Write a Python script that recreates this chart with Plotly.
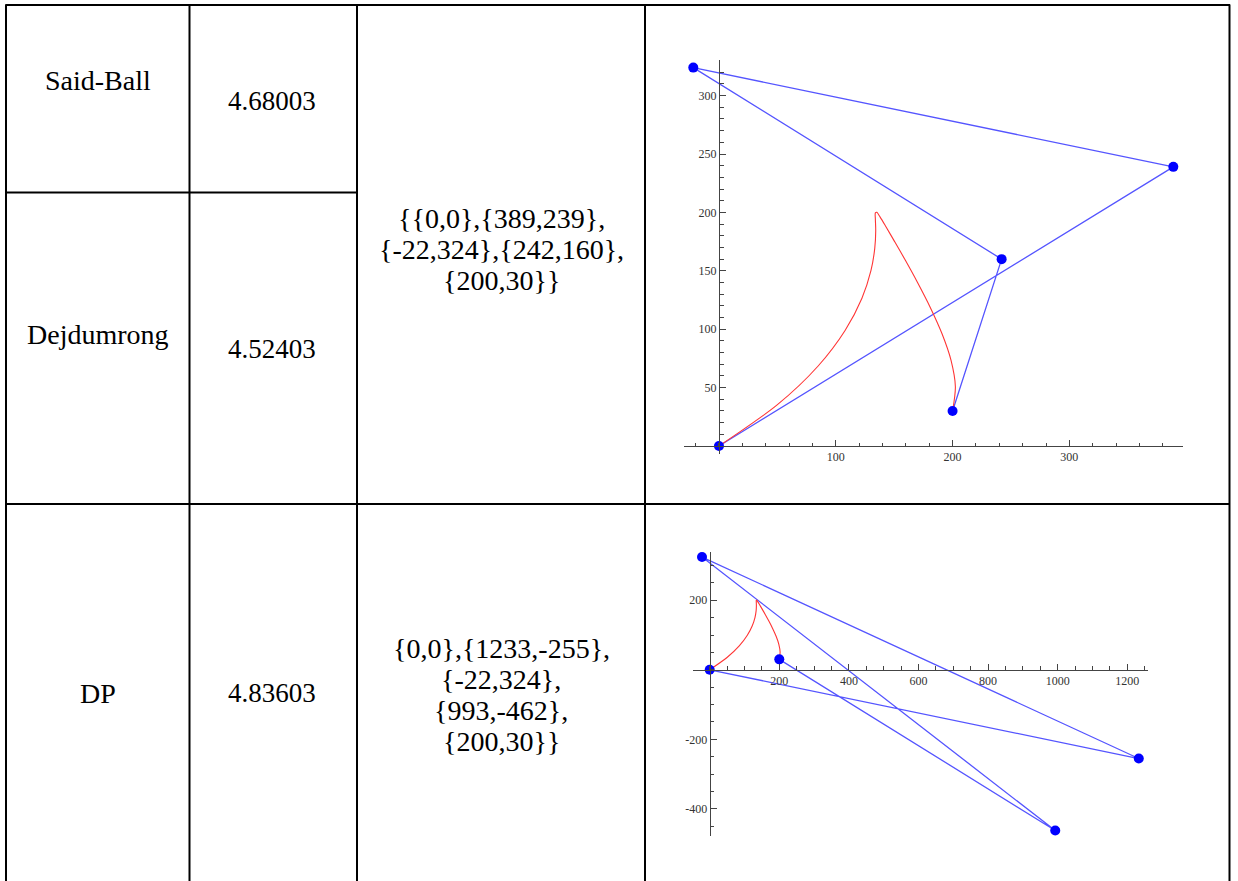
import plotly.graph_objects as go

W, H = 1238, 881

# ---------------- data ----------------
methods = ["Said-Ball", "Dejdumrong", "DP"]
errors = ["4.68003", "4.52403", "4.83603"]
ctrl_text_1 = ["{{0,0},{389,239},", "{-22,324},{242,160},", "{200,30}}"]
ctrl_text_2 = ["{0,0},{1233,-255},", "{-22,324},", "{993,-462},", "{200,30}}"]

ctrl1_x = [0, 389, -22, 242, 200]
ctrl1_y = [0, 239, 324, 160, 30]
ctrl2_x = [0, 1233, -22, 993, 200]
ctrl2_y = [0, -255, 324, -462, 30]

# red curve (identical in both panels)
curve_x = [0, 49.8, 84.9, 108.1, 122.4, 130.1, 133.4, 134.2, 133.9, 133.9, 135.1,
           138.0, 143.1, 150.4, 159.6, 170.0, 180.8, 190.9, 198.7, 202.4, 200]
curve_y = [0, 35.2, 68.5, 99.1, 126.5, 150.1, 169.4, 184.2, 194.3, 199.6, 200.1,
           196.0, 187.5, 175.0, 159.0, 140.0, 118.9, 96.3, 73.3, 50.8, 30]

x1_ticks = [100, 200, 300]
y1_ticks = [50, 100, 150, 200, 250, 300]
x2_ticks = [200, 400, 600, 800, 1000, 1200]
y2_ticks = [-400, -200, 200]
y2_ticktext = ["-400", "-200", "200"]


def px(x):
    return x / W


def py(y):
    return 1 - y / H


BLUE_LINE = "rgb(85,85,255)"
BLUE_PT = "#0000ff"
RED = "#ff3535"
AX = "#444444"
SERIF = "Liberation Serif"

fig = go.Figure()

for xs, ys, xa, ya in [(ctrl1_x, ctrl1_y, "x", "y"), (ctrl2_x, ctrl2_y, "x2", "y2")]:
    fig.add_trace(go.Scatter(x=xs, y=ys, mode="lines", xaxis=xa, yaxis=ya,
                             line=dict(color=BLUE_LINE, width=1.3), hoverinfo="skip"))
    fig.add_trace(go.Scatter(x=curve_x, y=curve_y, mode="lines", xaxis=xa, yaxis=ya,
                             line=dict(color=RED, width=1.1, shape="spline", smoothing=0.8),
                             hoverinfo="skip"))
    fig.add_trace(go.Scatter(x=xs, y=ys, mode="markers", xaxis=xa, yaxis=ya,
                             marker=dict(color=BLUE_PT, size=10), cliponaxis=False,
                             hoverinfo="skip"))

tickfont = dict(family=SERIF, size=12, color="#333333")


def axis(domain, rng, pos, tickvals, ticktext, minor_dtick):
    return dict(domain=domain, range=rng, anchor="free", position=pos,
                showgrid=False, zeroline=False, showline=True, linecolor=AX, linewidth=1,
                ticks="inside", ticklen=6, tickcolor=AX, tickwidth=1,
                tickmode="array", tickvals=tickvals, ticktext=ticktext,
                tickfont=tickfont, fixedrange=True,
                minor=dict(ticks="inside", ticklen=3.5, tickcolor=AX, tickwidth=1,
                           tickmode="linear", tick0=0, dtick=minor_dtick, showgrid=False))


fig.update_layout(
    xaxis=axis([px(683.7), px(1182.9)], [-30.2, 397.2], py(446), x1_ticks,
               [str(v) for v in x1_ticks], 20),
    yaxis=axis([py(453.6), py(60)], [-6.5, 330.5], px(719), y1_ticks,
               [str(v) for v in y1_ticks], 10),
    xaxis2=axis([px(693.3), px(1147.5)], [-47.1, 1258.1], py(669.8), x2_ticks,
                [str(v) for v in x2_ticks], 50),
    yaxis2=axis([py(836), py(551.6)], [-477.7, 339.7], px(709.7), y2_ticks,
                y2_ticktext, 50),
)

# ---------------- table grid ----------------
shapes = []
LW = 2


def hline(y, x0, x1):
    shapes.append(dict(type="line", xref="paper", yref="paper", x0=px(x0), x1=px(x1),
                       y0=py(y), y1=py(y), line=dict(color="black", width=LW)))


def vline(x, y0, y1):
    shapes.append(dict(type="line", xref="paper", yref="paper", x0=px(x), x1=px(x),
                       y0=py(y0), y1=py(y1), line=dict(color="black", width=LW)))


hline(5, 5.5, 1230)
hline(192.5, 5.5, 357)
hline(504, 5.5, 1230)
for xv in [6, 189.5, 357, 645, 1229.5]:
    vline(xv, 4.5, 881)

# ---------------- table text ----------------
ann = []


def text(x, y, s, size=28):
    ann.append(dict(x=px(x), y=py(y), xref="paper", yref="paper", text=s,
                    showarrow=False, xanchor="center", yanchor="middle",
                    font=dict(family=SERIF, size=size, color="black")))


label_pos = [(98, 80), (98, 335), (98, 693)]
err_pos = [(272, 101), (272, 349), (272, 693)]
for (lx, ly), s in zip(label_pos, methods):
    text(lx, ly, s)
for (ex, ey), s in zip(err_pos, errors):
    text(ex, ey, s, size=27)
for i, s in enumerate(ctrl_text_1):
    text(501, 218 + 31 * i, s)
for i, s in enumerate(ctrl_text_2):
    text(501, 648 + 31 * i, s)

fig.update_layout(width=W, height=H, margin=dict(l=0, r=0, t=0, b=0),
                  paper_bgcolor="white", plot_bgcolor="rgba(0,0,0,0)",
                  showlegend=False, shapes=shapes, annotations=ann)

fig.write_html("out.html", config={"displayModeBar": False},
               post_script="document.body.style.margin='0';document.body.style.overflow='hidden';")
